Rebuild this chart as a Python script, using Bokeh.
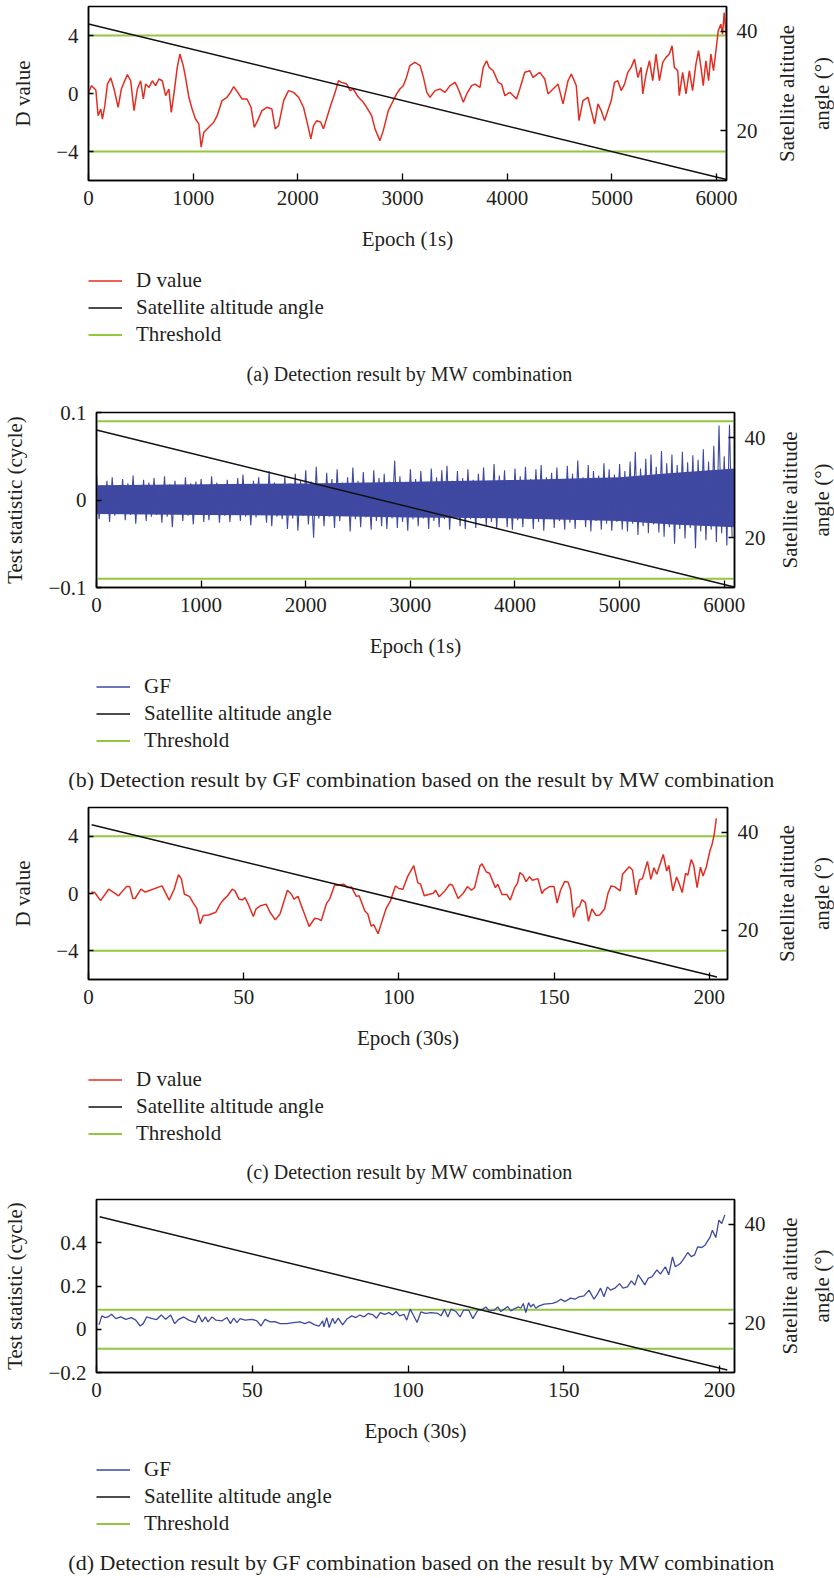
import math
from bokeh.plotting import figure
from bokeh.models import (Range1d, LinearAxis, FixedTicker, CustomJSTickFormatter,
                          Legend, LegendItem, Label, Spacer)
from bokeh.layouts import row
from bokeh.embed import file_html
from bokeh.resources import INLINE

# ---------------- data ----------------
# (a) D value of MW combination, 1 s epochs
a_points = [
    (0, 0.08), (29, 0.54), (70, 0.24), (92, -1.53), (117, -1.07), (133, -1.76), (156, -0.84), (181, 0.65),
    (213, 1.07), (244, 0.31), (283, -0.95), (314, 0.31), (340, 0.77), (371, 1.3), (403, 0.88), (435, -1.18),
    (467, 0.31), (498, 0.88), (524, -0.38), (546, 0.65), (578, 0.42), (610, 0.88), (641, 0.54), (673, 1.0),
    (705, 0.88), (737, -0.15), (768, 0.31), (791, -1.3), (816, -0.03), (848, 1.8), (873, 2.72), (905, 1.92),
    (927, 1.11), (959, -0.26), (990, -1.07), (1022, -1.76), (1054, -2.1), (1076, -3.7), (1102, -2.67),
    (1149, -2.33), (1197, -1.98), (1229, -1.53), (1276, -0.49), (1324, -0.26), (1356, 0.08), (1387, 0.47),
    (1426, 0.08), (1467, -0.38), (1514, -0.38), (1553, -0.95), (1584, -2.33), (1616, -1.87), (1657, -1.18),
    (1705, -0.95), (1752, -1.07), (1784, -2.44), (1816, -2.21), (1864, -0.49), (1911, 0.2), (1959, 0.08),
    (2007, -0.26), (2054, -0.95), (2092, -2.1), (2124, -3.13), (2150, -2.21), (2181, -1.87), (2219, -1.98),
    (2245, -2.44), (2308, -0.95), (2356, 0.08), (2388, 0.88), (2419, 0.77), (2467, 0.65), (2499, 0.2),
    (2530, 0.31), (2578, -0.26), (2626, -0.61), (2657, -0.95), (2705, -1.53), (2737, -2.44), (2784, -3.25),
    (2816, -2.56), (2864, -1.18), (2896, -0.72), (2943, -0.03), (2975, 0.31), (3007, 0.54), (3038, 1.11),
    (3070, 1.92), (3118, 2.14), (3168, 1.92), (3200, 1.11), (3232, 0.08), (3263, -0.26), (3311, 0.2),
    (3359, 0.31), (3406, 0.08), (3454, 0.54), (3502, 0.77), (3533, 0.31), (3581, -0.61), (3613, -0.03),
    (3660, 0.54), (3692, 0.65), (3740, 0.42), (3771, 1.8), (3803, 2.26), (3828, 1.8), (3866, 1.57),
    (3914, 0.77), (3946, 0.65), (3978, -0.15), (4025, 0.08), (4089, -0.38), (4120, 0.31), (4168, 1.46),
    (4216, 1.57), (4247, 1.11), (4311, 1.46), (4359, 1.0), (4390, -0.03), (4438, 0.31), (4486, 0.65),
    (4533, -0.72), (4581, 0.88), (4613, 1.34), (4660, 0.54), (4686, -1.87), (4724, -0.49), (4771, -0.26),
    (4803, -1.18), (4835, -2.1), (4867, -0.72), (4898, -1.18), (4930, -1.87), (4962, -1.18), (4994, -0.49),
    (5025, 0.77), (5057, 0.88), (5089, 0.2), (5121, 0.65), (5152, 1.46), (5184, 1.8), (5216, 2.37),
    (5248, 1.11), (5279, 1.8), (5295, -0.03), (5327, 1.34), (5359, 2.26), (5390, 0.88), (5422, 2.72),
    (5454, 0.88), (5486, 2.14), (5517, 2.49), (5549, 2.72), (5575, 3.29), (5597, 1.8), (5629, 1.57),
    (5644, -0.15), (5676, 1.46), (5708, -0.03), (5740, 1.57), (5771, 0.2), (5803, 2.03), (5828, 2.95),
    (5851, 1.8), (5873, 0.54), (5898, 2.26), (5924, 0.88), (5946, 2.72), (5971, 1.57), (5994, 2.95),
    (6016, 4.32), (6041, 4.78), (6057, 4.09), (6073, 5.58), (6095, 3.75),
]
a_epoch = [p[0] for p in a_points]
a_value = [p[1] for p in a_points]

# (b) GF test statistic, 1 s epochs: per-50-epoch maxima / minima (milli-cycles)
b_bin_epoch = list(range(0, 6100, 50))
b_hi_milli = [30, 17, 22, 26, 16, 24, 19, 28, 17, 23, 20,
              25, 16, 27, 18, 22, 17, 26, 19, 21, 24,
              17, 27, 20, 16, 23, 18, 25, 29, 17, 22,
              26, 18, 33, 20, 17, 27, 19, 30, 22, 34,
              21, 38, 18, 31, 24, 35, 20, 26, 37, 22,
              32, 19, 34, 25, 30, 21, 45, 27, 20, 35,
              24, 33, 19, 36, 26, 34, 39, 22, 33, 25,
              35, 23, 30, 37, 21, 41, 28, 34, 22, 36,
              27, 38, 24, 35, 40, 26, 31, 37, 23, 39,
              30, 45, 26, 40, 33, 28, 42, 35, 29, 41,
              33, 44, 55, 36, 47, 52, 38, 56, 42, 52,
              40, 55, 43, 51, 46, 58, 44, 62, 85, 50, 86]
b_lo_milli = [-22, -16, -25, -18, -15, -23, -17, -27, -16, -24, -19,
              -17, -26, -19, -31, -16, -24, -18, -28, -17, -25,
              -23, -16, -26, -18, -25, -17, -24, -19, -29, -20,
              -17, -26, -30, -19, -22, -33, -21, -35, -18, -28,
              -43, -21, -30, -19, -32, -24, -18, -36, -22, -31,
              -20, -34, -24, -30, -33, -21, -32, -25, -35, -22,
              -30, -21, -33, -24, -31, -22, -34, -20, -30, -33,
              -22, -32, -21, -30, -25, -33, -20, -31, -34, -23,
              -31, -22, -33, -25, -35, -21, -32, -24, -34, -26,
              -33, -23, -31, -36, -24, -34, -27, -35, -25, -34,
              -36, -27, -40, -30, -38, -28, -37, -42, -31, -50,
              -33, -44, -32, -55, -36, -46, -34, -48, -38, -52, -42]
b_core_epoch = [0, 1000, 2000, 3000, 4000, 5000, 5500, 6098]
b_core_hi_milli = [17, 18, 19, 21, 23, 26, 31, 36]
b_core_lo_milli = [-16, -17, -18, -20, -21, -24, -28, -31]

# (c) D value of MW combination, 30 s epochs
c_points = [
    (0.9, 0.1), (2, 0.07), (3.9, -0.5), (6.5, 0.3), (9.7, -0.16), (12.2, 0.48), (13.3, 0.48), (14.3, -0.35),
    (15, -0.35), (16.9, 0.3), (18.3, 0.1), (23.7, 0.53), (26, -0.46), (27.6, 0.3), (29, 1.31), (29.9, 1.04),
    (30.9, -0.05), (32.5, -0.2), (33.8, -0.67), (34.9, -1.04), (36, -2.12), (37, -1.54), (38.7, -1.5),
    (41, -1.31), (42.4, -0.74), (43.7, -0.39), (44.8, -0.16), (46.3, 0.3), (47.2, 0.18), (48.5, -0.39),
    (49.6, -0.46), (50.4, -0.28), (51.7, -0.85), (53.1, -1.61), (54, -1.08), (55.5, -0.85), (57.2, -0.74),
    (58.5, -1.31), (60.2, -1.84), (61.7, -1.43), (64.1, 0.23), (65.4, -0.05), (66.2, -0.39), (67.5, -0.2),
    (68.6, -0.85), (71.1, -2.3), (72.9, -1.73), (74, -1.77), (75, -1.89), (76.7, -0.69), (77.7, -0.39),
    (79.3, 0.58), (80.4, 0.58), (82.2, 0.65), (83.6, 0.41), (84.7, 0.46), (86.3, -0.2), (87.2, -0.16),
    (89, -1.2), (90, -1.43), (91.1, -2.28), (91.9, -2.17), (93.3, -2.81), (94.3, -2.12), (95.9, -1.04),
    (97.3, -0.51), (98.9, 0.53), (100, 0.35), (101.3, 0.3), (102.9, 1.22), (104.8, 1.95), (106.1, 0.76),
    (107, 0.65), (108.2, -0.16), (109.6, -0.07), (111.1, 0.02), (111.8, 0.23), (113, -0.23), (114.8, 0.18),
    (116.4, 0.65), (117.3, 0.58), (119.1, -0.35), (120.7, 0), (122.1, 0.48), (123.4, 0.23), (124.4, 0.41),
    (126.1, 1.91), (126.8, 2.07), (128.2, 1.5), (129.2, 1.41), (131.1, 0.41), (131.9, 0.65), (133.2, -0.07),
    (134.8, -0.07), (135.9, -0.46), (137.3, 0.41), (138.2, 0.71), (139, 1.45), (140, 1.29), (141, 0.83),
    (142.1, 1.18), (143, 0.92), (144.8, 1.04), (146.1, 0), (146.9, 0.25), (148.6, 0.48), (150, 0.48),
    (151, -0.67), (152.1, 0.23), (153.4, 0.83), (154.5, 0.81), (155.3, 0.3), (156.3, -1.66), (157.2, -1.04),
    (158.2, -0.9), (159, -0.44), (160.1, -0.62), (161.1, -1.94), (162.2, -1.08), (163.6, -1.54),
    (164.7, -1.5), (166.3, -1.08), (167.4, 0.02), (168.4, 0.53), (169.5, 0.48), (171.3, 0.18), (172.1, 1.34),
    (174.2, 1.87), (175.3, 1.64), (176.4, -0.09), (177.5, 0.94), (178.5, 1.04), (180.1, 2.24), (181.2, 0.99),
    (182.2, 1.8), (183.1, 1.34), (185.2, 2.72), (186.3, 1.57), (187, 1.96), (188.3, 0.18), (189.5, 1.15),
    (190.2, 0.76), (191.3, 0.07), (192.4, 1.41), (193.1, 1.27), (194.2, 2.37), (195, 1.98), (196.1, 0.41),
    (197.2, 1.84), (198, 1.22), (199.1, 1.87), (200.2, 2.95), (200.9, 3.41), (201.6, 4.1), (202.3, 5.25),
]
c_epoch = [p[0] for p in c_points]
c_value = [p[1] for p in c_points]

# (d) GF test statistic, 30 s epochs (cycles)
d_points = [
    (0.8, 0.02), (1.7, 0.062), (2.8, 0.054), (3.7, 0.057), (4.8, 0.069), (6.2, 0.049), (7.8, 0.057),
    (9.4, 0.046), (11.2, 0.054), (12.6, 0.042), (14, 0.015), (15, 0.026), (16.1, 0.057), (17.9, 0.049),
    (19.3, 0.045), (20.8, 0.066), (22.2, 0.046), (23.8, 0.066), (25.1, 0.026), (26.4, 0.046), (28, 0.057),
    (29.6, 0.042), (31.8, 0.031), (32.8, 0.066), (33.9, 0.034), (35, 0.057), (35.8, 0.034), (37.1, 0.057),
    (38.4, 0.042), (40.3, 0.039), (41.9, 0.054), (43, 0.026), (44, 0.051), (45.1, 0.031), (46.1, 0.049),
    (47.7, 0.042), (49.9, 0.046), (51.5, 0.039), (52.8, 0.015), (54.1, 0.046), (55.7, 0.034), (57.3, 0.035),
    (58.9, 0.026), (61.1, 0.026), (63.2, 0.031), (65.3, 0.034), (66.9, 0.026), (68.3, 0.034), (70.1, 0.02),
    (71.5, 0.015), (72.6, 0.039), (73, 0.011), (73.9, 0.054), (74.7, 0.008), (75.8, 0.051), (76.5, 0.026),
    (77.6, 0.051), (79, 0.02), (80.3, 0.046), (81.9, 0.062), (83.3, 0.054), (84.5, 0.066), (85.8, 0.057),
    (87.2, 0.073), (88.8, 0.066), (89.9, 0.051), (91.1, 0.077), (92.5, 0.069), (93.9, 0.077), (95, 0.066),
    (96.2, 0.082), (97.3, 0.062), (98.7, 0.069), (99.6, 0.042), (100.7, 0.093), (101.7, 0.066),
    (102.9, 0.031), (104.1, 0.08), (105.6, 0.073), (107.4, 0.077), (109.6, 0.073), (110.6, 0.062),
    (111.7, 0.093), (112.8, 0.057), (113.8, 0.093), (115.4, 0.082), (116.7, 0.057), (117.8, 0.088),
    (119.5, 0.088), (120.8, 0.049), (122.4, 0.088), (124, 0.093), (125, 0.103), (126.1, 0.085),
    (127.7, 0.088), (128.8, 0.103), (129.8, 0.082), (130.9, 0.093), (132, 0.105), (133, 0.085),
    (134.4, 0.097), (135.5, 0.103), (136.2, 0.097), (137, 0.119), (137.8, 0.077), (138.7, 0.123),
    (139.4, 0.103), (140.2, 0.116), (141, 0.097), (142.1, 0.108), (143.7, 0.116), (146.4, 0.12),
    (148, 0.128), (149, 0.139), (150.4, 0.128), (152.2, 0.144), (153.6, 0.139), (154.9, 0.15),
    (156.5, 0.154), (158.1, 0.181), (159.7, 0.139), (160.8, 0.162), (161.8, 0.19), (162.9, 0.15),
    (164, 0.196), (165, 0.181), (166.4, 0.19), (167.9, 0.211), (169, 0.19), (170.4, 0.196), (171.7, 0.224),
    (172.8, 0.204), (173.9, 0.252), (174.9, 0.231), (176, 0.205), (177.1, 0.236), (178.3, 0.242),
    (179.9, 0.275), (181, 0.255), (182.6, 0.289), (183.7, 0.252), (184.9, 0.335), (185.8, 0.289),
    (187.4, 0.304), (188.8, 0.332), (189.8, 0.355), (190.9, 0.336), (192, 0.344), (193, 0.381),
    (194.3, 0.378), (195.4, 0.39), (197, 0.427), (197.7, 0.458), (198.8, 0.424), (199.8, 0.505),
    (200.7, 0.489), (201.7, 0.529),
]
d_epoch = [p[0] for p in d_points]
d_value = [p[1] for p in d_points]

# satellite altitude angle (degrees), straight decline
alt_epoch_1s = [0, 6095]
alt_deg_1s = [41.5, 10.2]
alt_epoch_30s = [1, 202.5]
alt_deg_30s = [41.5, 10.5]

# thresholds
thr_mw = 4.0
thr_gf = 0.09

legend_mw = ["D value", "Satellite altitude angle", "Threshold"]
legend_gf = ["GF", "Satellite altitude angle", "Threshold"]
alt_title = "Satellite altitude\nangle (°)"

# ---------------- style ----------------
FONT = "Liberation Serif"
FS = "21px"
TXT = "#231f20"
RED = "#e42d21"
BLUE = "#3f49a1"
GREEN = "#93c83e"
BLACK = "#111111"
W = 834
BOTTOM = 76
RIGHT = 32

minus_fmt = "return tick < 0 ? '\u2212' + (-tick) : String(tick);"


def style_axis(ax, ticks, tick_in=6, standoff=10):
    ax.ticker = FixedTicker(ticks=ticks)
    ax.formatter = CustomJSTickFormatter(code=minus_fmt)
    ax.major_tick_in = tick_in
    ax.major_tick_out = 0
    ax.minor_tick_line_color = None
    ax.axis_line_color = "black"
    ax.axis_line_width = 1.5
    ax.major_tick_line_color = "black"
    ax.major_tick_line_width = 1.3
    ax.major_label_text_font = FONT
    ax.major_label_text_font_size = FS
    ax.major_label_text_color = TXT
    ax.major_label_standoff = standoff
    ax.axis_label_text_font = FONT
    ax.axis_label_text_font_size = FS
    ax.axis_label_text_font_style = "normal"
    ax.axis_label_text_color = TXT


def make_panel(top, frame_h, left, frame_right, xmax, yr, yticks, xticks, ylabel, xlabel,
               title_line_height, pad_left):
    """Returns a row: optional left pad, main chart, narrow plot holding the right axis title."""
    height = top + frame_h + BOTTOM
    p = figure(width=frame_right + RIGHT - pad_left, height=height, x_range=Range1d(0, xmax),
               y_range=Range1d(*yr), output_backend="svg", toolbar_location=None,
               min_border_left=left - pad_left, min_border_right=RIGHT,
               min_border_top=top, min_border_bottom=BOTTOM)
    p.extra_y_ranges = {"alt": Range1d(10, 45)}
    p.grid.visible = False
    p.outline_line_color = "black"
    p.outline_line_width = 1.5
    p.outline_line_alpha = 1.0
    p.background_fill_color = "white"
    p.border_fill_color = "white"

    style_axis(p.xaxis[0], xticks, tick_in=7, standoff=10)
    p.xaxis[0].axis_label = xlabel
    p.xaxis[0].axis_label_standoff = 19
    style_axis(p.yaxis[0], yticks, tick_in=5, standoff=10)
    p.yaxis[0].axis_label = ylabel
    p.yaxis[0].axis_label_standoff = 18

    rax = LinearAxis(y_range_name="alt")
    style_axis(rax, [20, 40], tick_in=6, standoff=10)
    p.add_layout(rax, "right")

    # title of the right-hand (altitude) axis, in a narrow companion plot
    sw = W - (frame_right + RIGHT)
    s = figure(width=sw, height=height, x_range=Range1d(0, 1), y_range=Range1d(10, 45),
               output_backend="svg", toolbar_location=None, x_axis_location=None,
               min_border_left=sw - 1, min_border_right=0, min_border_top=top, min_border_bottom=BOTTOM)
    s.grid.visible = False
    s.outline_line_color = None
    s.background_fill_color = "white"
    s.border_fill_color = "white"
    sax = s.yaxis[0]
    sax.ticker = FixedTicker(ticks=[])
    sax.axis_line_color = None
    sax.major_tick_line_color = None
    sax.minor_tick_line_color = None
    sax.axis_label = alt_title
    sax.axis_label_standoff = 0
    sax.axis_label_text_font = FONT
    sax.axis_label_text_font_size = FS
    sax.axis_label_text_font_style = "normal"
    sax.axis_label_text_color = TXT
    sax.axis_label_text_line_height = title_line_height
    kids = [p, s]
    if pad_left:
        kids = [Spacer(width=pad_left, height=height)] + kids
    return p, row(*kids, spacing=0)


def make_key(height, labels, colors, widths, frame_left, caption_x, row1_y, caption, caption_y, cap_fs):
    """Legend + caption strip below a chart (everything lies inside its own frame)."""
    k = figure(width=W, height=height, x_range=Range1d(0, W), y_range=Range1d(0, height),
               output_backend="svg", toolbar_location=None, x_axis_location=None, y_axis_location=None,
               min_border=0, min_border_left=0, min_border_right=0, min_border_top=0, min_border_bottom=0)
    k.grid.visible = False
    k.outline_line_color = None
    k.background_fill_color = "white"
    k.border_fill_color = "white"
    items = []
    for lab, col, lw in zip(labels, colors, widths):
        # key renderers only supply the line style for the legend swatches (kept off-canvas)
        r = k.line(x=[-60, -50], y=[-60, -50], line_color=col, line_width=lw)
        items.append(LegendItem(label=lab, renderers=[r]))
    rh, sp = 25, 2
    leg_h = 3 * rh + 2 * sp
    top_y = row1_y - rh / 2
    lg = Legend(items=items, location=(frame_left, height - top_y - leg_h), orientation="vertical",
                glyph_width=34, glyph_height=rh, label_height=rh, label_standoff=14,
                spacing=sp, padding=0, margin=0, border_line_color=None,
                background_fill_alpha=0, label_text_font=FONT, label_text_font_size=FS,
                label_text_color=TXT, label_text_baseline="middle")
    k.add_layout(lg)
    k.add_layout(Label(x=caption_x, y=height - caption_y, x_units="screen", y_units="screen",
                       text=caption, text_align="center", text_baseline="middle",
                       text_font=FONT, text_font_size=cap_fs, text_color=TXT))
    return k


def thresholds(p, xmax, thr):
    p.line([0, xmax], [thr, thr], line_color=GREEN, line_width=2)
    p.line([0, xmax], [-thr, -thr], line_color=GREEN, line_width=2)


# ---- (a)   page rows 0..392, frame 6..180, x 88..728
pa, rowa = make_panel(6, 174, 88, 728, 6095, (-6, 6), [-4, 0, 4], list(range(0, 7000, 1000)),
                      "D value", "Epoch (1s)", 1.45, 4)
thresholds(pa, 6095, thr_mw)
pa.line(a_epoch, a_value, line_color=RED, line_width=1.5)
pa.line(alt_epoch_1s, alt_deg_1s, y_range_name="alt", line_color=BLACK, line_width=1.5)
ka = make_key(392 - (6 + 174 + BOTTOM), legend_mw, [RED, BLACK, GREEN], [1.5, 1.5, 2], 88, 409,
              100.5 - BOTTOM, "(a) Detection result by MW combination", 193 - BOTTOM, "20px")

# ---- (b)   page rows 392..790, frame 412..587, x 96..736
pb, rowb = make_panel(20, 175, 96, 736, 6098, (-0.1, 0.1), [-0.1, 0, 0.1], list(range(0, 7000, 1000)),
                      "Test statistic (cycle)", "Epoch (1s)", 1.3, 0)
thresholds(pb, 6098, thr_gf)
pb.varea(x=b_core_epoch, y1=[v / 1000 for v in b_core_lo_milli], y2=[v / 1000 for v in b_core_hi_milli],
         fill_color=BLUE)
zx, zy = [], []
for e, h, l in zip(b_bin_epoch, b_hi_milli, b_lo_milli):
    zx += [e, e + 25]
    zy += [h / 1000, l / 1000]
pb.line(zx, zy, line_color=BLUE, line_width=1.1)
pb.line(alt_epoch_1s, [41.5, 10.1], y_range_name="alt", line_color=BLACK, line_width=1.5)
kb = make_key(398 - (20 + 175 + BOTTOM), legend_gf, [BLUE, BLACK, GREEN], [1.3, 1.5, 2], 96, 421,
              99 - BOTTOM, "(b) Detection result by GF combination based on the result by MW combination",
              191.5 - BOTTOM, "22px")

# ---- (c)   page rows 790..1185, frame 807..979, x 88..729
pc, rowc = make_panel(17, 172, 88, 729, 205.9, (-6, 6), [-4, 0, 4], [0, 50, 100, 150, 200],
                      "D value", "Epoch (30s)", 1.45, 4)
thresholds(pc, 205.9, thr_mw)
pc.line(c_epoch, c_value, line_color=RED, line_width=1.5)
pc.line(alt_epoch_30s, alt_deg_30s, y_range_name="alt", line_color=BLACK, line_width=1.5)
kc = make_key(395 - (17 + 172 + BOTTOM), legend_mw, [RED, BLACK, GREEN], [1.5, 1.5, 2], 88, 409,
              100 - BOTTOM, "(c) Detection result by MW combination", 192 - BOTTOM, "20px")

# ---- (d)   page rows 1185..1578, frame 1199..1372, x 96..736
pd_, rowd = make_panel(14, 173, 96, 736, 204.8, (-0.2, 0.6), [-0.2, 0, 0.2, 0.4], [0, 50, 100, 150, 200],
                       "Test statistic (cycle)", "Epoch (30s)", 1.3, 0)
thresholds(pd_, 204.8, thr_gf)
pd_.line(d_epoch, d_value, line_color=BLUE, line_width=1.3)
pd_.line(alt_epoch_30s, alt_deg_30s, y_range_name="alt", line_color=BLACK, line_width=1.5)
kd = make_key(393 - (14 + 173 + BOTTOM), legend_gf, [BLUE, BLACK, GREEN], [1.3, 1.5, 2], 96, 421,
              97 - BOTTOM, "(d) Detection result by GF combination based on the result by MW combination",
              190 - BOTTOM, "22px")

roots = [rowa, ka, rowb, kb, rowc, kc, rowd, kd]
open("out.html", "w").write(file_html(roots, INLINE))
